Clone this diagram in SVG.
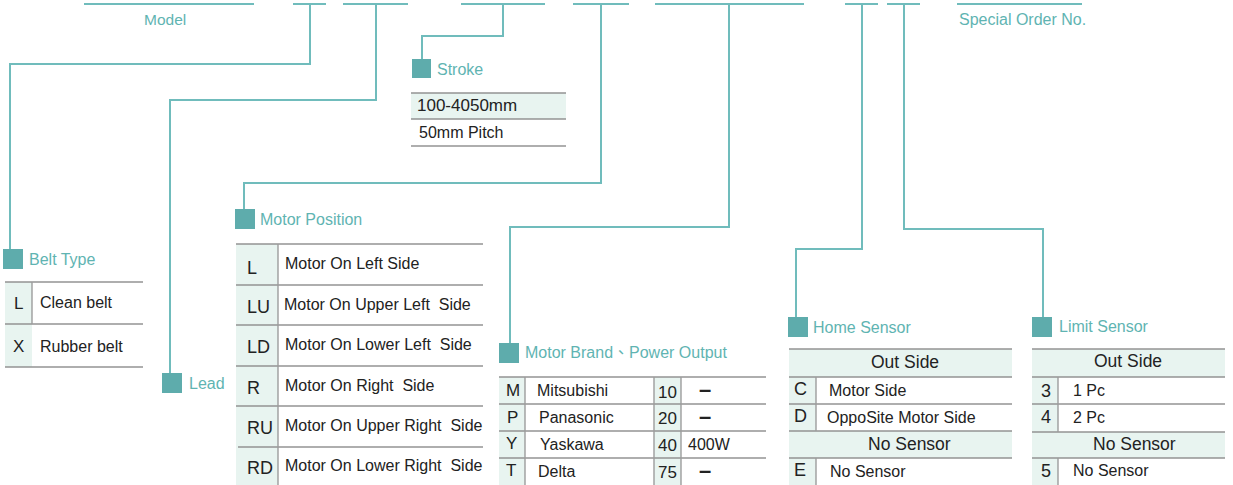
<svg xmlns="http://www.w3.org/2000/svg" width="1233" height="485" viewBox="0 0 1233 485">
<style>
.ln{stroke:#70bcbc;stroke-width:2;fill:none}
.sq{fill:#5eacac}
.lbl{font-family:"Liberation Sans",Arial,sans-serif;font-size:16px;fill:#5fb4b2}
.t{font-family:"Liberation Sans",Arial,sans-serif;font-size:16px;fill:#222}
.c{font-size:18px}
.dash{font-size:22px;font-weight:bold;text-anchor:middle}
.g{fill:#e8f4f0}
.rl{stroke:#939393;stroke-width:1.6}
.vl{stroke:#9c9c9c;stroke-width:1.4}
</style>
<rect width="1233" height="485" fill="#fff"/>
<g id="code-segments" class="ln">
<line x1="84" y1="4" x2="254" y2="4"/>
<line x1="293" y1="4" x2="326" y2="4"/>
<line x1="343" y1="4" x2="408" y2="4"/>
<line x1="461" y1="4" x2="545" y2="4"/>
<line x1="573" y1="4" x2="629" y2="4"/>
<line x1="655" y1="4" x2="804" y2="4"/>
<line x1="845" y1="4" x2="878" y2="4"/>
<line x1="887" y1="4" x2="920" y2="4"/>
<line x1="957" y1="4" x2="1082" y2="4"/>
</g>
<g id="connectors" class="ln">
<polyline points="310,4 310,64 10,64 10,249"/>
<polyline points="376,4 376,100 170,100 170,373"/>
<polyline points="503,4 503,36 422,36 422,59"/>
<polyline points="601,4 601,183 244,183 244,209"/>
<polyline points="729,4 729,227 510,227 510,343"/>
<polyline points="862,4 862,249 796,249 796,317"/>
<polyline points="904,4 904,229 1043,229 1043,317"/>
</g>
<g id="model">
<text class="lbl" x="144" y="25" style="font-size:15.5px">Model</text>
</g>
<g id="special-order">
<text class="lbl" x="959" y="25">Special Order No.</text>
</g>
<g id="belt-type">
<rect class="sq" x="3" y="249" width="20" height="20"/>
<text class="lbl" x="29" y="265">Belt Type</text>
<rect class="g" x="5" y="282" width="27" height="85"/>
<line class="rl" x1="5" y1="282" x2="143" y2="282"/>
<line class="rl" x1="5" y1="324" x2="143" y2="324"/>
<line class="rl" x1="5" y1="367" x2="143" y2="367"/>
<line class="vl" x1="32" y1="282" x2="32" y2="324"/>
<text class="t" x="14" y="309" style="font-size:17px">L</text>
<text class="t" x="40" y="308">Clean belt</text>
<text class="t" x="13" y="352" style="font-size:17px">X</text>
<text class="t" x="40" y="352">Rubber belt</text>
</g>
<g id="lead">
<rect class="sq" x="162" y="373" width="20" height="20"/>
<text class="lbl" x="189" y="389">Lead</text>
</g>
<g id="stroke">
<rect class="sq" x="412" y="59" width="19" height="19"/>
<text class="lbl" x="437" y="75">Stroke</text>
<rect class="g" x="411" y="93" width="155" height="26"/>
<line class="rl" x1="411" y1="93" x2="566" y2="93"/>
<line class="rl" x1="411" y1="119" x2="566" y2="119"/>
<line class="rl" x1="411" y1="146" x2="566" y2="146"/>
<text class="t" x="417" y="111" style="font-size:17px">100-4050mm</text>
<text class="t" x="419" y="138">50mm Pitch</text>
</g>
<g id="motor-position">
<rect class="sq" x="235" y="209" width="20" height="20"/>
<text class="lbl" x="260" y="225">Motor Position</text>
<rect class="g" x="236" y="244" width="42" height="241"/>
<line class="rl" x1="236" y1="244" x2="483" y2="244"/>
<line class="rl" x1="236" y1="285" x2="483" y2="285"/>
<line class="rl" x1="236" y1="325" x2="483" y2="325"/>
<line class="rl" x1="236" y1="366" x2="483" y2="366"/>
<line class="rl" x1="236" y1="406" x2="483" y2="406"/>
<line class="rl" x1="238" y1="447" x2="483" y2="447"/>
<line class="vl" x1="278" y1="244" x2="278" y2="485"/>
<text class="t c" x="247" y="274">L</text>
<text class="t" x="285" y="269">Motor On Left Side</text>
<text class="t c" x="247" y="313">LU</text>
<text class="t" x="284" y="310" xml:space="preserve">Motor On Upper Left  Side</text>
<text class="t c" x="247" y="353">LD</text>
<text class="t" x="285" y="350" xml:space="preserve">Motor On Lower Left  Side</text>
<text class="t c" x="247" y="394">R</text>
<text class="t" x="285" y="391" xml:space="preserve">Motor On Right  Side</text>
<text class="t c" x="247" y="434">RU</text>
<text class="t" x="285" y="431" xml:space="preserve">Motor On Upper Right  Side</text>
<text class="t c" x="247" y="474">RD</text>
<text class="t" x="285" y="471" xml:space="preserve">Motor On Lower Right  Side</text>
</g>
<g id="motor-brand">
<rect class="sq" x="499" y="343" width="20" height="20"/>
<text class="lbl" x="525" y="358" style="font-family:'Liberation Sans','Noto Sans CJK TC',sans-serif">Motor Brand、Power Output</text>
<rect class="g" x="499" y="377" width="26" height="108"/>
<rect class="g" x="654" y="377" width="27" height="108"/>
<line class="rl" x1="499" y1="377" x2="766" y2="377"/>
<line class="rl" x1="499" y1="404" x2="766" y2="404"/>
<line class="rl" x1="499" y1="431" x2="766" y2="431"/>
<line class="rl" x1="499" y1="458" x2="766" y2="458"/>
<line class="vl" x1="525" y1="377" x2="525" y2="485"/>
<line class="vl" x1="654" y1="377" x2="654" y2="485"/>
<line class="vl" x1="681" y1="377" x2="681" y2="485"/>
<text class="t" x="506" y="396" style="font-size:17px">M</text>
<text class="t" x="537" y="396">Mitsubishi</text>
<text class="t" x="658" y="398" style="font-size:17px">10</text>
<text class="t dash" x="705" y="397">–</text>
<text class="t" x="507" y="423" style="font-size:17px">P</text>
<text class="t" x="539" y="423">Panasonic</text>
<text class="t" x="658" y="424" style="font-size:17px">20</text>
<text class="t dash" x="705" y="424">–</text>
<text class="t" x="506" y="449" style="font-size:17px">Y</text>
<text class="t" x="540" y="450">Yaskawa</text>
<text class="t" x="658" y="451" style="font-size:17px">40</text>
<text class="t" x="688" y="450">400W</text>
<text class="t" x="506" y="476" style="font-size:17px">T</text>
<text class="t" x="538" y="477">Delta</text>
<text class="t" x="658" y="478" style="font-size:17px">75</text>
<text class="t dash" x="705" y="478">–</text>
</g>
<g id="home-sensor">
<rect class="sq" x="788" y="317" width="20" height="20"/>
<text class="lbl" x="813" y="333">Home Sensor</text>
<rect class="g" x="789" y="349" width="223" height="28"/>
<rect class="g" x="789" y="431" width="223" height="27"/>
<rect class="g" x="789" y="377" width="27" height="54"/>
<rect class="g" x="789" y="458" width="27" height="27"/>
<line class="rl" x1="789" y1="349" x2="1012" y2="349"/>
<line class="rl" x1="789" y1="377" x2="1012" y2="377"/>
<line class="rl" x1="789" y1="404" x2="1012" y2="404"/>
<line class="rl" x1="789" y1="431" x2="1012" y2="431"/>
<line class="rl" x1="789" y1="458" x2="1012" y2="458"/>
<line class="vl" x1="816" y1="377" x2="816" y2="431"/>
<line class="vl" x1="816" y1="458" x2="816" y2="485"/>
<text class="t" x="871" y="368" style="font-size:17.5px">Out Side</text>
<text class="t c" x="794" y="395">C</text>
<text class="t" x="829" y="396">Motor Side</text>
<text class="t c" x="794" y="422">D</text>
<text class="t" x="827" y="423">OppoSite Motor Side</text>
<text class="t" x="868" y="450" style="font-size:17.5px">No Sensor</text>
<text class="t c" x="794" y="476">E</text>
<text class="t" x="830" y="477">No Sensor</text>
</g>
<g id="limit-sensor">
<rect class="sq" x="1032" y="317" width="20" height="20"/>
<text class="lbl" x="1059" y="332">Limit Sensor</text>
<rect class="g" x="1032" y="349" width="193" height="28"/>
<rect class="g" x="1032" y="432" width="193" height="26"/>
<rect class="g" x="1032" y="377" width="26" height="55"/>
<rect class="g" x="1032" y="458" width="26" height="27"/>
<line class="rl" x1="1032" y1="349" x2="1225" y2="349"/>
<line class="rl" x1="1032" y1="377" x2="1225" y2="377"/>
<line class="rl" x1="1032" y1="404" x2="1225" y2="404"/>
<line class="rl" x1="1032" y1="432" x2="1225" y2="432"/>
<line class="rl" x1="1032" y1="458" x2="1225" y2="458"/>
<line class="vl" x1="1058" y1="377" x2="1058" y2="432"/>
<line class="vl" x1="1058" y1="458" x2="1058" y2="485"/>
<text class="t" x="1094" y="367" style="font-size:17.5px">Out Side</text>
<text class="t c" x="1041" y="397">3</text>
<text class="t" x="1073" y="396">1 Pc</text>
<text class="t c" x="1041" y="423">4</text>
<text class="t" x="1073" y="423">2 Pc</text>
<text class="t" x="1093" y="450" style="font-size:17.5px">No Sensor</text>
<text class="t c" x="1041" y="477">5</text>
<text class="t" x="1073" y="476">No Sensor</text>
</g>
</svg>
